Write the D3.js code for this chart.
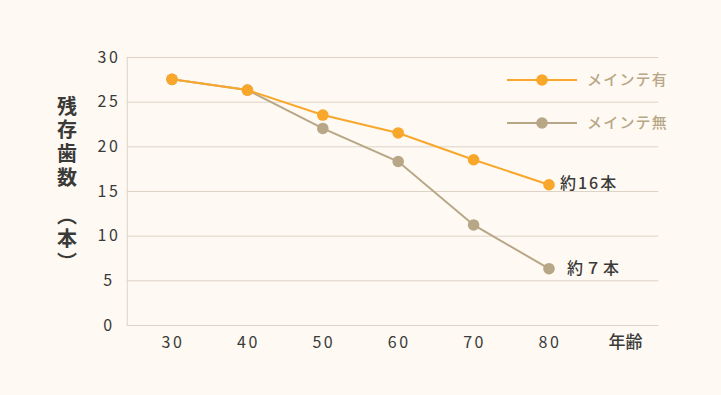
<!DOCTYPE html>
<html>
<head>
<meta charset="utf-8">
<script src="https://cdn.jsdelivr.net/npm/d3@7"></script>
<style>
  body { margin: 0; background: #fef9f3; }
  svg { display: block; font-family: "Noto Sans CJK JP", "Noto Sans", sans-serif; }
</style>
</head>
<body>
<svg width="721" height="395"></svg>
<script>
// ages on the x axis
var ages = [30, 40, 50, 60, 70, 80];
var withCare = [27.5, 26.3, 23.5, 21.5, 18.5, 15.7];
var noCare = [27.5, 26.3, 22.0, 18.3, 11.2, 6.3];
var yTicks = [0, 5, 10, 15, 20, 25, 30];
var xTitle = '年齢';
var yTitle = '残存歯数　（本）';
var seriesNames = ['メインテ有', 'メインテ無'];
var endLabels = ['約16本', '約７本'];

var orange = '#f9a72b';
var tan = '#b8a786';
var grid = '#dcd3c6';
var ink = '#3a3a38';

var svg = d3.select('svg');

var x = d3.scaleLinear().domain([30, 80]).range([172, 549]);
var y = d3.scaleLinear().domain([0, 30]).range([325, 57]);
var left = x(24), right = x(94.5);

// gridlines
svg.append('g')
  .selectAll('line')
  .data(yTicks)
  .enter()
  .append('line')
  .attr('x1', left)
  .attr('x2', right)
  .attr('y1', d => y(d) + 0.5)
  .attr('y2', d => y(d) + 0.5)
  .attr('stroke', grid)
  .attr('stroke-width', 1);

svg.append('line')
  .attr('x1', left + 0.5).attr('x2', left + 0.5)
  .attr('y1', y(30)).attr('y2', y(0) + 0.5)
  .attr('stroke', grid);

// y tick labels
svg.append('g')
  .selectAll('text')
  .data(yTicks)
  .enter()
  .append('text')
  .attr('x', 109)
  .attr('y', d => y(d))
  .attr('dy', '0.36em')
  .attr('text-anchor', 'middle')
  .attr('font-size', 16)
  .attr('letter-spacing', 2.5)
  .attr('fill', ink)
  .text(d => d);

// x tick labels
svg.append('g')
  .selectAll('text')
  .data(ages)
  .enter()
  .append('text')
  .attr('x', d => x(d) + 1)
  .attr('y', 342)
  .attr('dy', '0.36em')
  .attr('text-anchor', 'middle')
  .attr('font-size', 16)
  .attr('letter-spacing', 2.5)
  .attr('fill', ink)
  .text(d => d);

svg.append('text')
  .attr('x', x(90) + 1)
  .attr('y', 342)
  .attr('dy', '0.36em')
  .attr('text-anchor', 'middle')
  .attr('font-size', 17)
  .attr('font-weight', 500)
  .attr('fill', ink)
  .text(xTitle);

// y title, vertical writing
svg.append('text')
  .attr('x', 67)
  .attr('y', 96)
  .attr('writing-mode', 'vertical-rl')
  .attr('font-size', 20)
  .attr('font-weight', 700)
  .attr('letter-spacing', 3.8)
  .attr('fill', ink)
  .text(yTitle);

var line = d3.line()
  .x((d, i) => x(ages[i]))
  .y(d => y(d));

function drawSeries(vals, color) {
  svg.append('path')
    .attr('d', line(vals))
    .attr('fill', 'none')
    .attr('stroke', color)
    .attr('stroke-width', 2);
  svg.append('g')
    .selectAll('circle')
    .data(vals)
    .enter()
    .append('circle')
    .attr('cx', (d, i) => x(ages[i]))
    .attr('cy', d => y(d))
    .attr('r', 5.8)
    .attr('fill', color);
}

drawSeries(noCare, tan);
drawSeries(withCare, orange);

// legend
var legend = svg.append('g');
[orange, tan].forEach((c, i) => {
  var ly = 80 + i * 43;
  legend.append('line')
    .attr('x1', 507).attr('x2', 577)
    .attr('y1', ly).attr('y2', ly)
    .attr('stroke', c).attr('stroke-width', 2);
  legend.append('circle')
    .attr('cx', 542).attr('cy', ly).attr('r', 5.8).attr('fill', c);
  legend.append('text')
    .attr('x', 587).attr('y', ly)
    .attr('dy', '0.36em')
    .attr('font-size', 15)
    .attr('font-weight', 500)
    .attr('letter-spacing', 1.2)
    .attr('fill', tan)
    .text(seriesNames[i]);
});

// end labels
svg.append('text')
  .attr('x', x(80) + 11)
  .attr('y', y(withCare[5]) - 2)
  .attr('dy', '0.36em')
  .attr('font-size', 16)
  .attr('font-weight', 500)
  .attr('letter-spacing', 2)
  .attr('fill', ink)
  .text(endLabels[0]);

svg.append('text')
  .attr('x', x(80) + 18)
  .attr('y', y(noCare[5]))
  .attr('dy', '0.36em')
  .attr('font-size', 16)
  .attr('font-weight', 500)
  .attr('letter-spacing', 2)
  .attr('fill', ink)
  .text(endLabels[1]);
</script>
</body>
</html>
